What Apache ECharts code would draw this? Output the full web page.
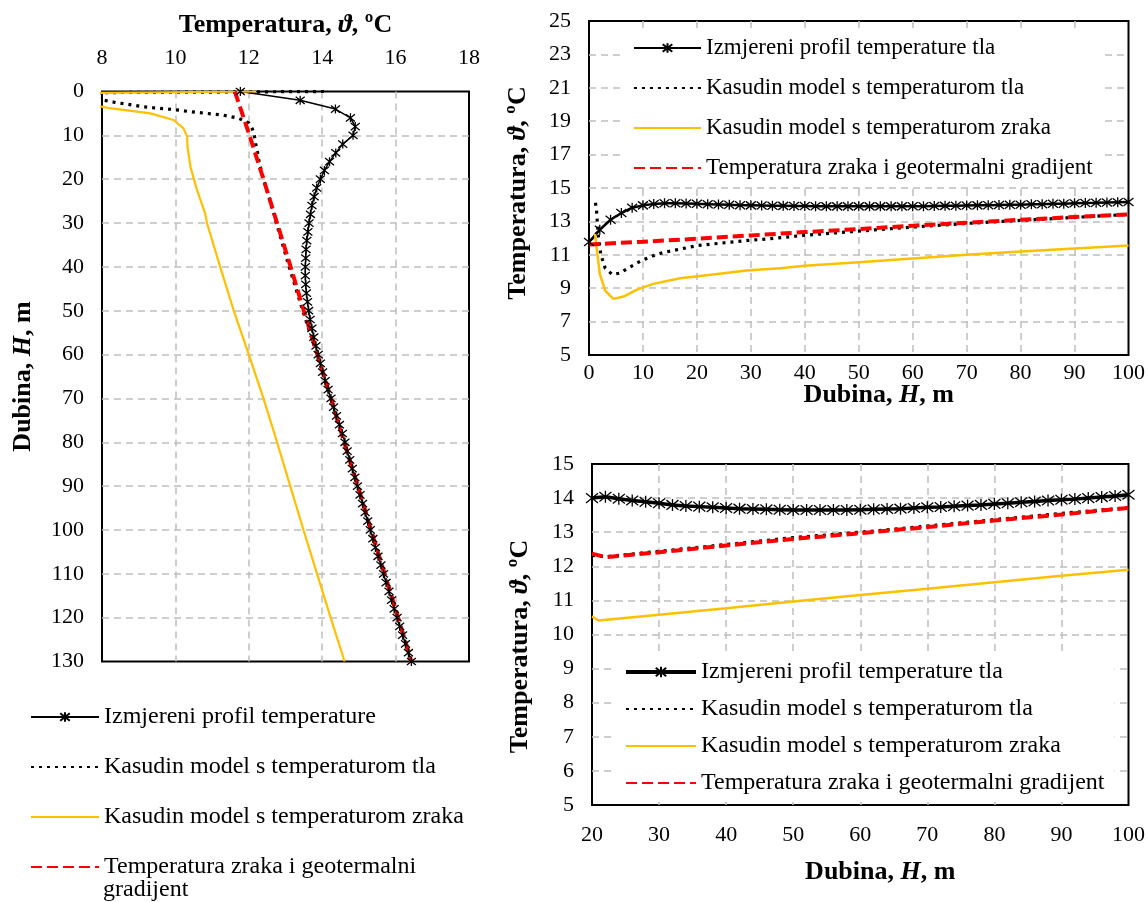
<!DOCTYPE html>
<html><head><meta charset="utf-8">
<script src="https://cdn.jsdelivr.net/npm/echarts@6.0.0/dist/echarts.min.js"></script>
<style>html,body{margin:0;padding:0;background:#fff}#c{width:1148px;height:902px}</style>
</head><body><div id="c"></div>
<script>
const FONT = "'Liberation Serif','Times New Roman',serif";

// ---------- Left chart (temperature on x, depth on y) ----------
const leftMeasDepth = [0,2,4,6,8,10,12,14,16,18,20,22,24,26,28,30,32,34,36,38,40,42,44,46,48,50,52,54,56,58,60,62,64,66,68,70,72,74,76,78,80,82,84,86,88,90,92,94,96,98,100,102,104,106,108,110,112,114,116,118,120,122,124,126,128,130];
const leftMeasTemp = [11.77,13.40,14.36,14.77,14.90,14.84,14.56,14.37,14.20,14.06,13.95,13.85,13.78,13.72,13.68,13.64,13.61,13.58,13.56,13.55,13.54,13.54,13.55,13.57,13.60,13.63,13.67,13.72,13.77,13.83,13.89,13.95,14.01,14.08,14.16,14.24,14.31,14.39,14.47,14.55,14.62,14.68,14.75,14.82,14.89,14.96,15.03,15.10,15.17,15.24,15.31,15.38,15.45,15.52,15.60,15.67,15.74,15.82,15.89,15.96,16.04,16.11,16.19,16.27,16.35,16.43];
const leftDotDepth = [0,0.25,1.0,1.9,2.5,2.9,3.5,3.8,4.1,4.6,5.0,5.4,6.1,7.2,8.6,10,12,14,16,18,20,22,24,26,28,30,40,50,60,70,80,90,100,110,120,130];
const leftDotTemp = [14.05,8.0,7.7,8.0,8.36,8.68,9.13,9.5,9.95,10.4,10.86,11.31,11.72,12.0,12.1,12.15,12.19,12.24,12.28,12.34,12.40,12.47,12.55,12.62,12.69,12.75,13.1,13.47,13.86,14.23,14.6,14.97,15.33,15.7,16.07,16.43];
const leftYelDepth = [0,0.3,1.5,3.3,3.8,4.2,5.0,6.5,8.4,10.3,12.6,17.2,22.5,27.8,30,40,50,60,70,80,90,100,110,120,130];
const leftYelTemp = [12.2,7.9,7.7,7.9,8.2,8.59,9.32,9.95,10.22,10.32,10.33,10.41,10.59,10.81,10.86,11.22,11.59,12.0,12.4,12.77,13.13,13.49,13.86,14.23,14.61];
const leftRedDepth = [0,10,20,30,40,50,60,70,80,90,100,110,120,130];
const leftRedTemp = [11.62,12.02,12.40,12.77,13.14,13.50,13.87,14.24,14.60,14.97,15.33,15.70,16.07,16.43];

// ---------- Top-right chart (depth on x, temperature on y) ----------
const trMeasDepth = [0,2,4,6,8,10,12,14,16,18,20,22,24,26,28,30,32,34,36,38,40,42,44,46,48,50,52,54,56,58,60,62,64,66,68,70,72,74,76,78,80,82,84,86,88,90,92,94,96,98,100];
const trMeasTemp = [11.76,12.50,13.10,13.50,13.82,13.96,14.04,14.08,14.08,14.07,14.05,14.03,14.01,13.99,13.97,13.96,13.95,13.94,13.93,13.92,13.92,13.91,13.90,13.90,13.90,13.90,13.90,13.90,13.90,13.90,13.91,13.91,13.92,13.93,13.94,13.95,13.96,13.97,13.98,13.99,14.00,14.02,14.03,14.05,14.06,14.08,14.10,14.11,14.13,14.15,14.16];
const trDotDepth = [1.2,1.4,1.5,1.7,2.2,3.0,4.3,5.7,7.0,9.75,12.5,14.1,17.2,20.2,23.3,26.4,29.5,33.5,39.7,50,60,70,80,90,100];
const trDotTemp = [14.12,13.66,13.16,12.2,11.0,10.2,9.82,9.9,10.16,10.66,11.02,11.16,11.36,11.56,11.66,11.76,11.86,11.96,12.16,12.42,12.66,12.88,13.06,13.24,13.42];
const trYelDepth = [1.1,1.5,2,3,4.5,6.4,8.8,11.9,16.9,23,29.2,35.4,40,50,60,70,80,90,100];
const trYelTemp = [12.3,11.2,9.86,8.86,8.36,8.5,8.9,9.26,9.6,9.82,10.06,10.2,10.34,10.56,10.78,11.0,11.2,11.38,11.56];
const trRedDepth = [0,10,20,30,40,50,60,70,80,90,100];
const trRedTemp = [11.62,11.78,11.96,12.16,12.36,12.54,12.74,12.92,13.1,13.26,13.42];

// ---------- Bottom-right chart (depth 20-100) ----------
const brMeasDepth = [20,22,24,26,28,30,32,34,36,38,40,42,44,46,48,50,52,54,56,58,60,62,64,66,68,70,72,74,76,78,80,82,84,86,88,90,92,94,96,98,100];
const brMeasTemp = [14.00,14.04,13.98,13.93,13.89,13.85,13.80,13.77,13.75,13.73,13.71,13.69,13.68,13.67,13.66,13.65,13.65,13.65,13.65,13.65,13.66,13.67,13.68,13.69,13.71,13.73,13.74,13.76,13.78,13.80,13.83,13.85,13.88,13.90,13.93,13.95,13.97,14.00,14.03,14.06,14.10];
const brRedDepth = [20,22,30,40,50,60,70,80,90,100];
const brRedTemp = [12.37,12.27,12.41,12.61,12.80,12.97,13.15,13.34,13.52,13.71];
const brDotDepth = [20,22,30,40,50,60,70,80,90,100];
const brDotTemp = [12.32,12.28,12.44,12.64,12.84,13.00,13.18,13.37,13.55,13.72];
const brYelDepth = [20,21,30,40,50,60,70,80,90,100];
const brYelTemp = [10.53,10.41,10.58,10.77,10.97,11.16,11.34,11.53,11.72,11.90];

// ---------- Labels ----------
const NAME_MEAS_L = 'Izmjereni profil temperature';
const NAME_MEAS_R = 'Izmjereni profil temperature tla';
const NAME_DOT = 'Kasudin model s temperaturom tla';
const NAME_YEL = 'Kasudin model s temperaturom zraka';
const NAME_RED = 'Temperatura zraka i geotermalni gradijent';
const NAME_RED_L1 = 'Temperatura zraka i geotermalni';
const NAME_RED_L2 = 'gradijent';
const TEMP_TITLE = 'Temperatura, {i|ϑ}, ºC';
const DEPTH_TITLE = 'Dubina, {i|H}, m';

const STAR = 'path://M0,-10L0,10M-8,-8L8,8M-8,8L8,-8';

function pairs(a, b) { return a.map((v, i) => [v, b[i]]); }

function nameStyle(size, padding) {
  return {
    fontFamily: FONT, fontSize: size, fontWeight: 'bold', color: '#000', padding: padding || 0,
    rich: { i: { fontFamily: FONT, fontSize: size, fontWeight: 'bold', fontStyle: 'italic', color: '#000' } }
  };
}
const splitLine = { show: true, showMinLine: false, showMaxLine: false,
  lineStyle: { color: '#bfbfbf', width: 1.5, type: [7, 5] } };
function axis(extra) {
  return Object.assign({
    type: 'value',
    axisLine: { show: false }, axisTick: { show: false },
    splitLine: splitLine,
    nameLocation: 'middle', nameMoveOverlap: false,
    nameTextStyle: nameStyle(26)
  }, extra);
}
function labelCfg(margin) {
  return { color: '#000', fontFamily: FONT, fontSize: 22, margin: margin };
}

const dotLine = { color: '#000', width: 3.2, type: [3, 5], cap: 'butt' };
const redLine = { color: '#ff0000', width: 4, type: [11, 5] };

function ser(name, gi, data, lineStyle, marker) {
  const s = {
    name: name, type: 'line', xAxisIndex: gi, yAxisIndex: gi, data: data,
    lineStyle: lineStyle, silent: true, animation: false, clip: true
  };
  if (marker) {
    s.symbol = STAR; s.symbolSize = marker; s.showSymbol = true;
    s.itemStyle = { color: '#000', borderColor: '#000', borderWidth: 1.3 };
  } else {
    s.symbol = 'none'; s.showSymbol = false;
  }
  return s;
}

const hideSym = { opacity: 0 };

const option = {
  backgroundColor: '#fff',
  animation: false,
  grid: [
    { left: 102, top: 91.5, width: 367, height: 570, show: true, borderColor: '#000', borderWidth: 2, backgroundColor: 'transparent' },
    { left: 589, top: 21, width: 540, height: 334, show: true, borderColor: '#000', borderWidth: 2, backgroundColor: 'transparent' },
    { left: 592, top: 464, width: 537, height: 341, show: true, borderColor: '#000', borderWidth: 2, backgroundColor: 'transparent' }
  ],
  xAxis: [
    axis({ gridIndex: 0, position: 'top', min: 8, max: 18, interval: 2, name: TEMP_TITLE, nameGap: 53, axisLabel: labelCfg(22) }),
    axis({ gridIndex: 1, min: 0, max: 100, interval: 10, name: DEPTH_TITLE, nameGap: 27, axisLabel: labelCfg(7),
      nameTextStyle: nameStyle(26, [0, 0, 0, 40]) }),
    axis({ gridIndex: 2, min: 20, max: 100, interval: 10, name: DEPTH_TITLE, nameGap: 54, axisLabel: labelCfg(19),
      nameTextStyle: nameStyle(26, [0, 0, 0, 40]) })
  ],
  yAxis: [
    axis({ gridIndex: 0, inverse: true, min: 0, max: 130, interval: 10, name: DEPTH_TITLE, nameGap: 66, axisLabel: labelCfg(18) }),
    axis({ gridIndex: 1, min: 5, max: 25, interval: 2, name: TEMP_TITLE, nameGap: 58, axisLabel: labelCfg(18),
      nameTextStyle: nameStyle(26, [0, 10, 0, 0]) }),
    axis({ gridIndex: 2, min: 5, max: 15, interval: 1, name: TEMP_TITLE, nameGap: 59, axisLabel: labelCfg(18),
      nameTextStyle: nameStyle(26, [0, 24, 0, 0]) })
  ],
  legend: [
    {
      orient: 'vertical', left: 30, top: 704, padding: 0, itemGap: 24, itemWidth: 68, itemHeight: 12,
      selectedMode: false,
      textStyle: { fontFamily: FONT, fontSize: 24, color: '#000', lineHeight: 26 },
      formatter: function (n) { return n === NAME_RED ? NAME_RED_L1 : n; },
      data: [
        { name: NAME_MEAS_L },
        { name: NAME_DOT, itemStyle: hideSym },
        { name: NAME_YEL, itemStyle: hideSym },
        { name: NAME_RED, itemStyle: hideSym }
      ]
    },
    {
      orient: 'vertical', left: 623, top: 29, padding: [6, 10, 6, 10], itemGap: 14, itemWidth: 67, itemHeight: 12,
      backgroundColor: '#fff', selectedMode: false,
      textStyle: { fontFamily: FONT, fontSize: 23, color: '#000', lineHeight: 26 },
      data: [
        { name: NAME_MEAS_R },
        { name: NAME_DOT, itemStyle: hideSym },
        { name: NAME_YEL, itemStyle: hideSym },
        { name: NAME_RED, itemStyle: hideSym }
      ]
    },
    {
      orient: 'vertical', left: 614, top: 653, padding: [6, 10, 6, 10], itemGap: 11, itemWidth: 70, itemHeight: 13,
      backgroundColor: '#fff', selectedMode: false,
      textStyle: { fontFamily: FONT, fontSize: 24, color: '#000', lineHeight: 26 },
      data: [
        { name: NAME_MEAS_R, lineStyle: { width: 4 } },
        { name: NAME_DOT, itemStyle: hideSym },
        { name: NAME_YEL, itemStyle: hideSym },
        { name: NAME_RED, itemStyle: hideSym }
      ]
    }
  ],
  graphic: [
    { type: 'text', x: 103, y: 890, silent: true,
      style: { text: NAME_RED_L2, fill: '#000', font: '24px ' + FONT, verticalAlign: 'middle', align: 'left' } }
  ],
  series: [
    ser(NAME_MEAS_L, 0, pairs(leftMeasTemp, leftMeasDepth), { color: '#000', width: 1.5 }, 9),
    ser(NAME_DOT, 0, pairs(leftDotTemp, leftDotDepth), dotLine),
    ser(NAME_YEL, 0, pairs(leftYelTemp, leftYelDepth), { color: '#ffc000', width: 2.2 }),
    ser(NAME_RED, 0, pairs(leftRedTemp, leftRedDepth), redLine),

    ser(NAME_MEAS_R, 1, pairs(trMeasDepth, trMeasTemp), { color: '#000', width: 2.5 }, 10),
    ser(NAME_DOT, 1, pairs(trDotDepth, trDotTemp), dotLine),
    ser(NAME_YEL, 1, pairs(trYelDepth, trYelTemp), { color: '#ffc000', width: 2.5 }),
    ser(NAME_RED, 1, pairs(trRedDepth, trRedTemp), redLine),

    ser(NAME_MEAS_R, 2, pairs(brMeasDepth, brMeasTemp), { color: '#000', width: 3.5 }, 12),
    ser(NAME_DOT, 2, pairs(brDotDepth, brDotTemp), dotLine),
    ser(NAME_YEL, 2, pairs(brYelDepth, brYelTemp), { color: '#ffc000', width: 2.5 }),
    ser(NAME_RED, 2, pairs(brRedDepth, brRedTemp), redLine)
  ]
};

const chart = echarts.init(document.getElementById('c'), null, { renderer: 'canvas' });
chart.setOption(option);
</script>
</body></html>
